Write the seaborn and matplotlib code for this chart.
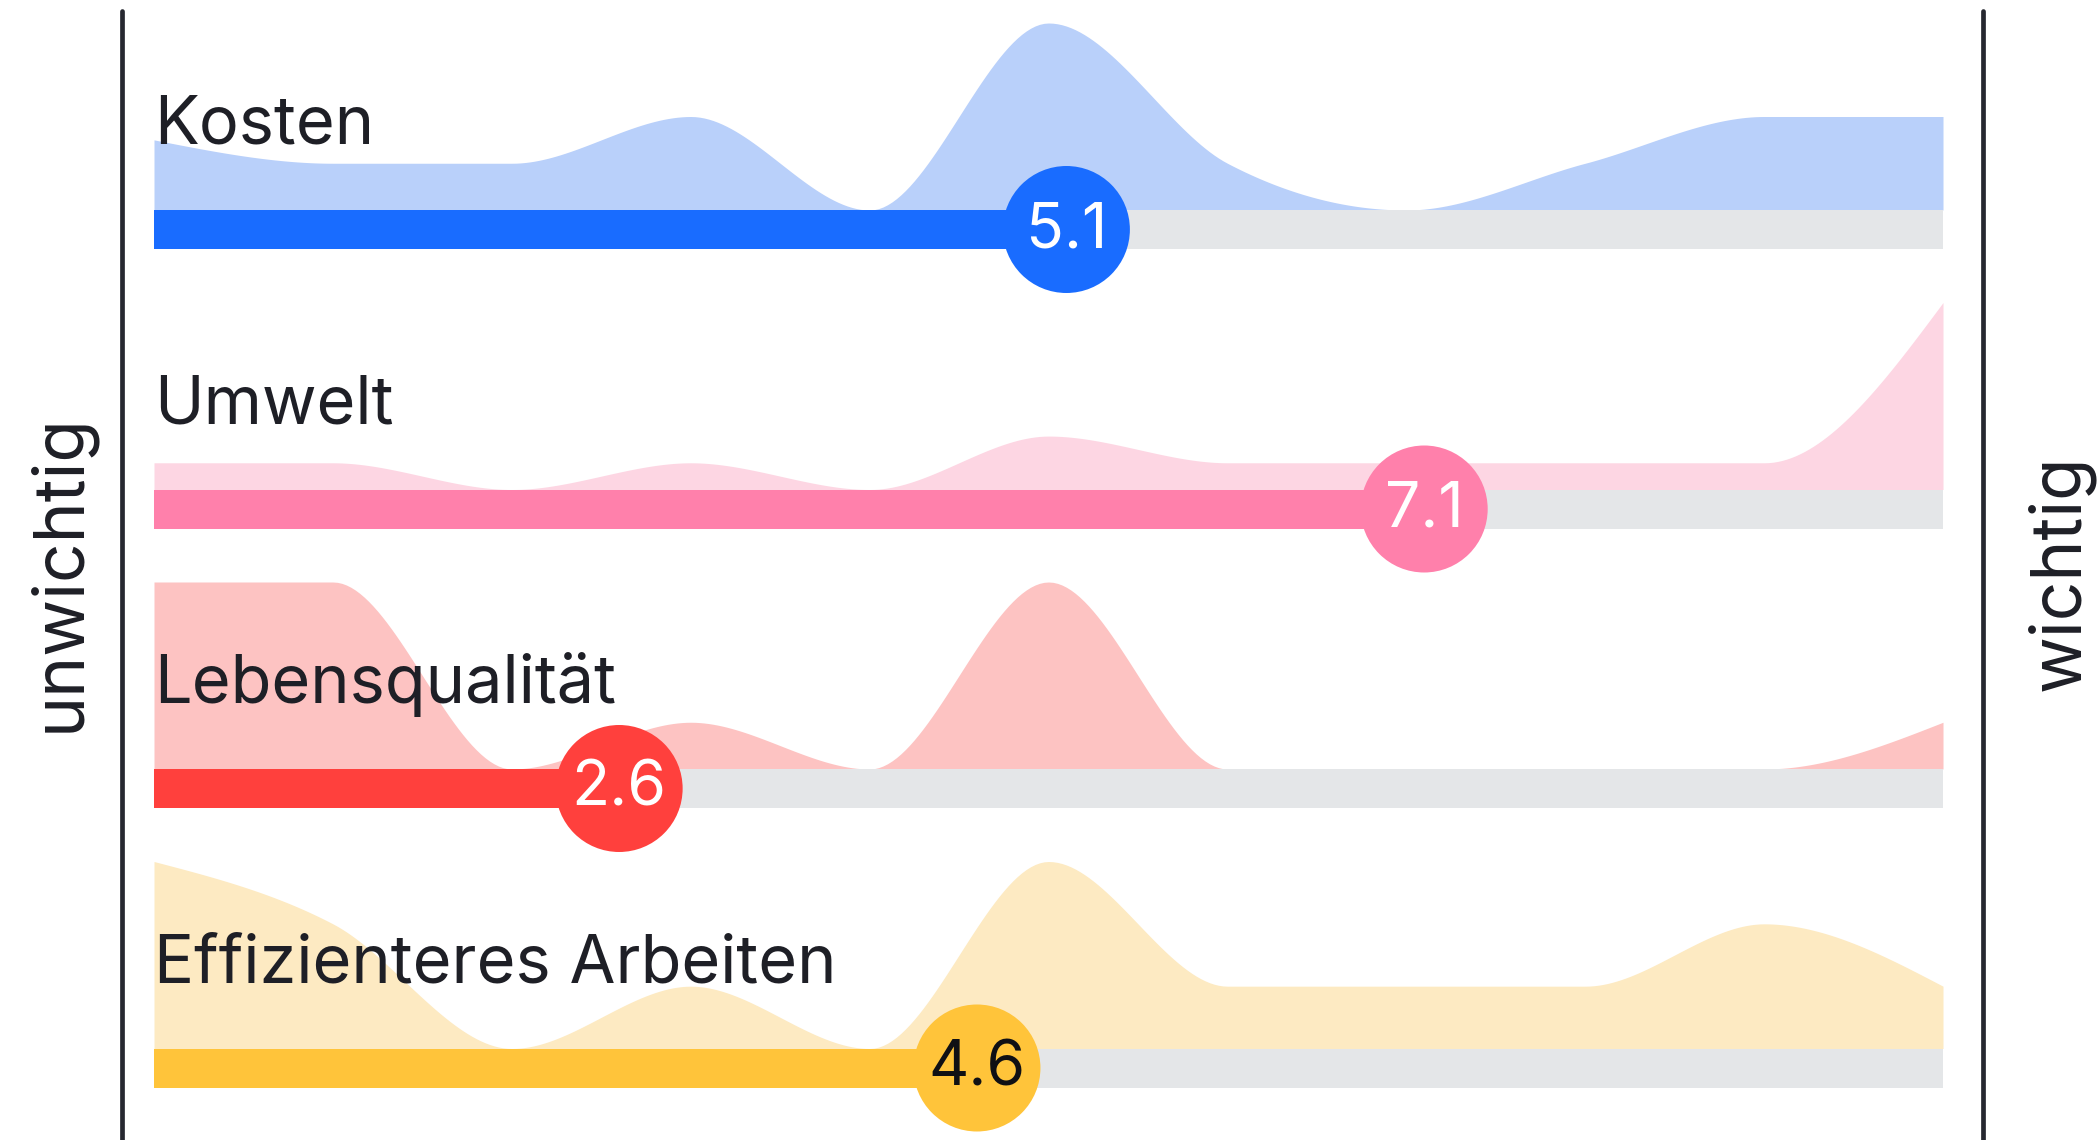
import numpy as np
import matplotlib.pyplot as plt
from matplotlib.lines import Line2D
import seaborn as sns

scale_points = list(range(11))
categories = ["Kosten", "Umwelt", "Lebensqualität", "Effizienteres Arbeiten"]
kosten = [1.5, 1, 1, 2, 0, 4, 1, 0, 1, 2, 2]
umwelt = [1, 1, 0, 1, 0, 2, 1, 1, 1, 1, 7]
lebensqualitaet = [4, 4, 0, 1, 0, 4, 0, 0, 0, 0, 1]
effizienz = [3, 2, 0, 1, 0, 3, 1, 1, 1, 2, 1]
means = [5.1, 7.1, 2.6, 4.6]
left_label = "unwichtig"
right_label = "wichtig"

dark_colors = ["#196CFF", "#FF80AB", "#FF403D", "#FFC43A"]
light_colors = ["#B9D0FA", "#FDD6E3", "#FDC3C2", "#FDEAC2"]
number_colors = ["white", "white", "white", "#101014"]
track_color = "#E4E6E8"
text_color = "#1E1F26"


def monotone_curve(x, y, n=40):
    """d3-style monotoneX interpolation for a smooth, non-overshooting area edge"""
    x = np.asarray(x, float)
    y = np.asarray(y, float)
    h = np.diff(x)
    s = np.diff(y) / h
    t = np.zeros_like(y)
    for i in range(1, len(y) - 1):
        s0, s1 = s[i - 1], s[i]
        p = (s0 * h[i] + s1 * h[i - 1]) / (h[i - 1] + h[i])
        t[i] = (np.sign(s0) + np.sign(s1)) * min(abs(s0), abs(s1), 0.5 * abs(p))
    t[0] = (3 * s[0] - t[1]) / 2
    t[-1] = (3 * s[-1] - t[-2]) / 2
    xs, ys = [], []
    for i in range(len(y) - 1):
        u = np.linspace(0, 1, n, endpoint=False)
        h00 = 2 * u**3 - 3 * u**2 + 1
        h10 = u**3 - 2 * u**2 + u
        h01 = -2 * u**3 + 3 * u**2
        h11 = u**3 - u**2
        xs.append(x[i] + u * h[i])
        ys.append(h00 * y[i] + h10 * h[i] * t[i] + h01 * y[i + 1] + h11 * h[i] * t[i + 1])
    xs.append([x[-1]])
    ys.append([y[-1]])
    return np.concatenate(xs), np.clip(np.concatenate(ys), 0, None)


sns.set_theme(style="white")
plt.rcParams['font.family'] = ['Inter', 'DejaVu Sans']

W, H = 2097, 1140
fig = plt.figure(figsize=(W / 100, H / 100), dpi=100)
track_left, track_right = 154, 1943
ax = fig.add_axes([track_left / W, 0, (track_right - track_left) / W, 1])

row_top = 210        # px, top of first track
row_step = 279.5     # px between rows
track_h = 39         # px
area_h = 187         # px, tallest point of each area
circle_d = 127       # px

rows = [kosten, umwelt, lebensqualitaet, effizienz]
for i, (name, counts) in enumerate(zip(categories, rows)):
    base = row_top + row_step * i
    mid = base + track_h / 2
    cx, cy = monotone_curve(scale_points, counts)
    cy = cy / max(counts) * area_h
    ax.fill_between(cx, base - cy, base, color=light_colors[i], lw=0, zorder=1)

    ax.barh(mid, width=10, left=0, height=track_h, color=track_color, lw=0, zorder=2)
    ax.barh(mid, width=means[i], left=0, height=track_h, color=dark_colors[i], lw=0, zorder=3)

    sns.scatterplot(x=[means[i]], y=[mid], s=(circle_d * 0.72) ** 2, color=dark_colors[i],
                    edgecolor="none", linewidth=0, ax=ax, zorder=4)
    ax.text(means[i], mid + 1, f"{means[i]:.1f}", ha="center", va="center",
            fontsize=45, color=number_colors[i], zorder=5)

    ax.text(0, base - 66, name, ha="left", va="baseline", fontsize=48,
            color=text_color, zorder=6)

ax.set_xlim(0, 10)
ax.set_ylim(H, 0)
ax.set_axis_off()

# frame lines left and right
for xpos in (122, 1983):
    fig.add_artist(Line2D([xpos / W, xpos / W], [1 - 11 / H, 0], transform=fig.transFigure,
                          color="#262830", lw=3.4))

fig.text(60 / W, 1 - 573 / H, left_label, rotation=90, ha="center", va="center",
         fontsize=50, color=text_color)
fig.text(2060 / W, 1 - 573 / H, right_label, rotation=90, ha="center", va="center",
         fontsize=50, color=text_color)

fig.savefig("out.png", dpi=100)
